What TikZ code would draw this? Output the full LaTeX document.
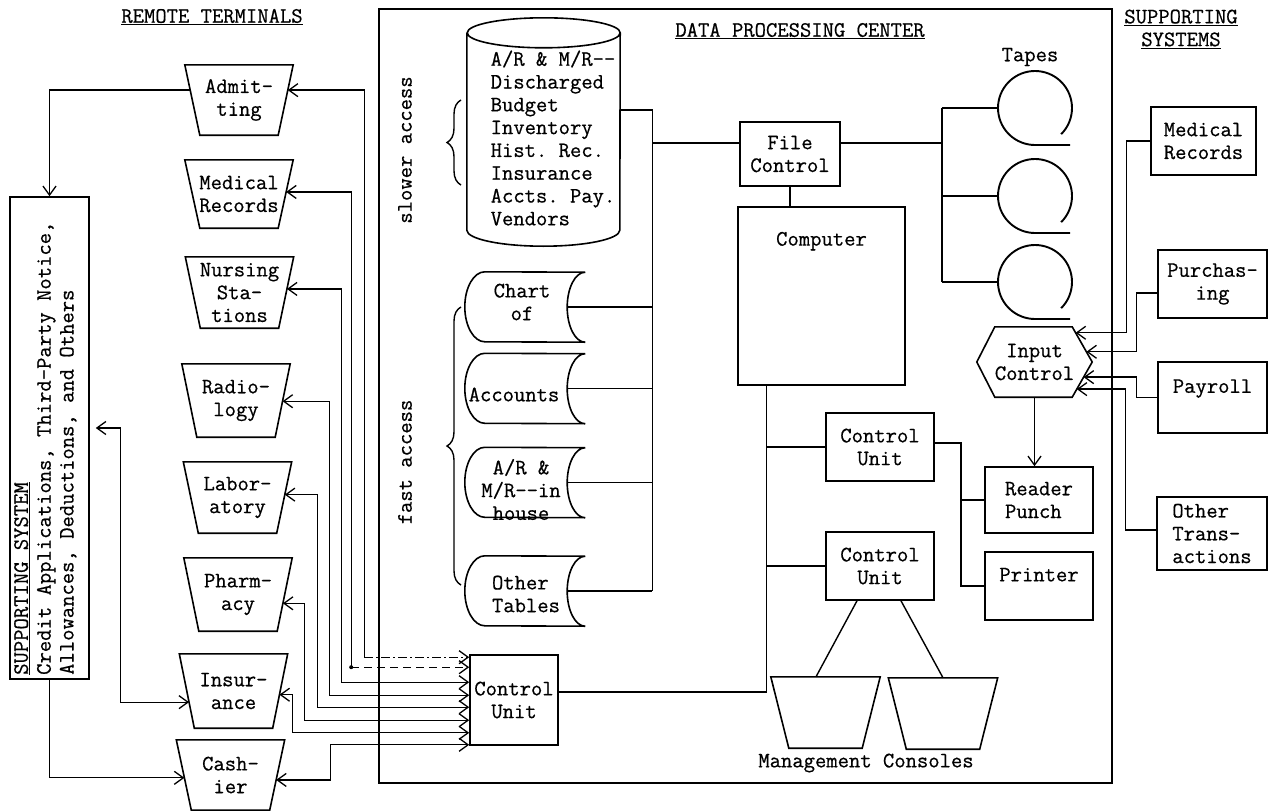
\documentclass[tikz,border=0pt]{standalone}
\usepackage{fontspec}
\setmonofont{Latin Modern Mono}[FakeBold=0.6]
\usetikzlibrary{arrows.meta,calc,decorations.pathreplacing}
\newcommand\mono{\ttfamily\fontsize{22}{22.8}\selectfont}
\newcommand\dd{-\kern0pt-}
\tikzset{
  ln/.style={line width=1.4pt},
  shp/.style={line width=1.6pt},
  wire/.style={line width=1.3pt},
  txt/.style={font=\mono, inner sep=0pt, align=center},
  box/.style={draw, shp, font=\mono, inner sep=0pt, align=center},
  hole/.style={inner sep=0pt, font=\mono, align=center},
  termtext/.style={hole, minimum width=108pt},
  >={Straight Barb[length=9pt,width=13pt]},
}
% terminal: name, x, y, text, height
\newcommand\terminal[5]{%
  \node[termtext, minimum height=#5pt] (#1) at (#2,#3) {#4};
  \coordinate (#1-tl) at (#1.north west);
  \coordinate (#1-tr) at (#1.north east);
  \coordinate (#1-bl) at ([xshift=15pt]#1.south west);
  \coordinate (#1-br) at ([xshift=-15pt]#1.south east);
  \draw[shp] (#1-tl) -- (#1-tr) -- (#1-br) -- (#1-bl) -- cycle;
}
% stored data shape: name, x, y
\newcommand\stored[3]{%
  \node[hole, minimum width=120pt, minimum height=70pt] (#1) at (#2,#3) {};
  \draw[shp] ([xshift=20pt]#1.north west)
    arc[start angle=90, end angle=270, x radius=20pt, y radius=35pt]
    -- (#1.south east)
    arc[start angle=270, end angle=90, x radius=18pt, y radius=35pt]
    -- cycle;
}
\begin{document}
\begin{tikzpicture}[x=1pt,y=-1pt]
\fill[white] (0,0) rectangle (1270,811);
\useasboundingbox (0,0) rectangle (1270,811);

% headers
\node[txt] (hrt) at (212,17) {\underline{REMOTE TERMINALS}};
\node[txt] (hdpc) at (800,31) {\underline{DATA PROCESSING CENTER}};
\node[txt] (hss) at (1181,29) {\underline{SUPPORTING}\\\underline{SYSTEMS}};

% data processing center frame
\node[draw, shp, minimum width=733pt, minimum height=774pt, inner sep=0pt] (dpc) at (745.5,396) {};

% remote terminals
\terminal{adm}{239}{100}{Admit-\\ting}{70}
\terminal{mrec}{239}{194}{Medical\\Records}{68}
\terminal{nurs}{239.5}{292.5}{Nursing\\Sta-\\tions}{71}
\terminal{rad}{236}{400.5}{Radio-\\logy}{73}
\terminal{lab}{237.5}{497.5}{Labor-\\atory}{71}
\terminal{pha}{238}{594.5}{Pharm-\\acy}{73}
\terminal{ins}{233.5}{691}{Insur-\\ance}{74}
\terminal{cash}{230.5}{775}{Cash-\\ier}{70}

\coordinate (adm-in) at ($(adm-tr)!0.36!(adm-br)$);
\coordinate (mrec-in) at ($(mrec-tr)!0.47!(mrec-br)$);
\coordinate (nurs-in) at ($(nurs-tr)!0.45!(nurs-br)$);
\coordinate (rad-in) at ($(rad-tr)!0.51!(rad-br)$);
\coordinate (lab-in) at ($(lab-tr)!0.46!(lab-br)$);
\coordinate (pha-in) at ($(pha-tr)!0.62!(pha-br)$);
\coordinate (ins-in) at ($(ins-tr)!0.55!(ins-br)$);
\coordinate (cash-in) at ($(cash-tr)!0.57!(cash-br)$);
\coordinate (adm-out) at ($(adm-tl)!0.36!(adm-bl)$);
\coordinate (ins-lin) at ($(ins-tl)!0.65!(ins-bl)$);
\coordinate (cash-lin) at ($(cash-tl)!0.54!(cash-bl)$);

% terminal control unit
\node[box, minimum width=88pt, minimum height=90pt] (cul) at (514,700) {Control\\Unit};

\coordinate (wa) at ([xshift=-105pt,yshift=-3pt]cul.north west);
\draw[wire,<-] (adm-in) -| (wa);
\draw[wire,->,dash pattern=on 9pt off 3pt on 2pt off 3pt] (wa) -- (wa -| cul.west);
\coordinate (wb) at ([xshift=-118pt,yshift=-13pt]cul.north west);
\draw[wire,<-] (mrec-in) -| (wb);
\draw[wire,->,dash pattern=on 8pt off 5pt] (wb) -- (wb -| cul.west);
\fill (wb) circle (2pt);
\draw[wire,<->] (nurs-in) -| ([xshift=-128pt,yshift=-28pt]cul.north west) -- ([yshift=-28pt]cul.north west);
\draw[wire,<->] (rad-in) -| ([xshift=-140pt,yshift=-41pt]cul.north west) -- ([yshift=-41pt]cul.north west);
\draw[wire,<->] (lab-in) -| ([xshift=-152pt,yshift=-53pt]cul.north west) -- ([yshift=-53pt]cul.north west);
\draw[wire,<->] (pha-in) -| ([xshift=-165pt,yshift=-66pt]cul.north west) -- ([yshift=-66pt]cul.north west);
\draw[wire,<->] (ins-in) -| ([xshift=-177pt,yshift=13pt]cul.south west) -- ([yshift=13pt]cul.south west);
\draw[wire,<->] (cash-in) -| ([xshift=-139pt,yshift=1pt]cul.south west) -- ([yshift=1pt]cul.south west);

% left supporting system
\node[draw, shp, minimum width=79pt, minimum height=482pt, inner sep=0pt] (ssys) at (49.5,438) {};
\node[txt, rotate=90, anchor=north west, align=left] (ssyst) at (14,675)
  {\underline{SUPPORTING SYSTEM}\\Credit Applications, Third-Party Notice,\\Allowances, Deductions, and Others};
\draw[wire,->] (adm-out) -| (ssys.north);
\draw[wire,<->] ([xshift=6pt,yshift=10pt]ssys.east) -- ++(25,0) |- (ins-lin);
\draw[wire,->] (ssys.south) |- (cash-lin);

% access labels and braces
\node[txt, rotate=90] (slow) at (405,150) {slower access};
\node[txt, rotate=90] (fast) at (405,462) {fast access};
\draw[ln, decorate, decoration={brace, amplitude=14pt}] (461,185) -- (461,100);
\draw[ln, decorate, decoration={brace, amplitude=14pt}] (461,585) -- (461,307);

% drum
\node[hole, minimum width=153pt, minimum height=197pt] (drum) at (543.5,131.5) {};
\draw[shp] (drum.north west) -- (drum.south west)
  arc[start angle=180, end angle=360, x radius=76.5pt, y radius=16pt]
  -- (drum.north east)
  arc[start angle=0, end angle=360, x radius=76.5pt, y radius=15pt];
\node[txt, align=left] (drumt) at (553,138)
  {A/R \& M/R\dd\\Discharged\\Budget\\Inventory\\Hist. Rec.\\Insurance\\Accts. Pay.\\Vendors};

% fast access tables
\stored{chart}{525}{307}
\stored{acct}{525}{388.5}
\stored{arin}{525}{482.5}
\stored{oth}{525}{591}
\node[txt] (chartt) at ([shift={(-3,-5)}]chart.center) {Chart\\of};
\node[txt] (acctt) at ([shift={(-11,6)}]acct.center) {Accounts};
\node[txt] (arint) at ([shift={(-4,7)}]arin.center) {A/R \&\\M/R\dd in\\house};
\node[txt, align=left] (otht) at ([shift={(1,3)}]oth.center) {Other\\Tables};

% storage bus
\coordinate (busT) at ([xshift=32pt,yshift=21.5pt]drum.east);
\draw[ln] ([yshift=21.5pt]drum.east) -- (busT) -- (busT |- oth.east);
\foreach \n in {chart,acct,arin,oth} \draw[ln] ([xshift=-18pt]\n.east) -- (\n.east -| busT);

% file control and computer
\node[box, minimum width=100pt, minimum height=64pt] (fc) at (790,154) {File\\Control};
\coordinate (fcin) at ([yshift=11pt]fc.west);
\draw[ln] (fcin -| busT) -- (fcin);
\node[draw, shp, minimum width=167pt, minimum height=178pt, inner sep=0pt] (comp) at (821.5,296) {};
\node[txt] (compt) at ([yshift=-35pt]comp.north) {Computer};
\draw[ln] (fc.south) -- (fc.south |- comp.north);

% tapes
\node[txt] (tapes) at (1030,57) {Tapes};
\node[circle, minimum size=74pt, inner sep=0pt] (tape1) at (1035,108) {};
\node[circle, minimum size=74pt, inner sep=0pt] (tape2) at (1035,196) {};
\node[circle, minimum size=74pt, inner sep=0pt] (tape3) at (1035,282) {};
\foreach \t in {tape1,tape2,tape3}
  \draw[line width=1.9pt] ([shift={(-45:37pt)}]\t.center)
    arc[start angle=-45, end angle=270, radius=37pt] -- ++(35,0);
\coordinate (fcout) at ([yshift=11pt]fc.east);
\coordinate (tbus) at ([xshift=101pt]fcout);
\draw[ln] (fcout) -- (tbus);
\draw[ln] (tbus |- tape1.west) -- (tbus |- tape3.west);
\foreach \t in {tape1,tape2,tape3} \draw[ln] (tbus |- \t.west) -- (\t.west);

% input control
\node[hole, minimum width=115pt, minimum height=70pt] (inc) at (1034.5,362) {Input\\Control};
\coordinate (inc-nw) at ([xshift=18pt]inc.north west);
\coordinate (inc-ne) at ([xshift=-20pt]inc.north east);
\coordinate (inc-se) at ([xshift=-20pt]inc.south east);
\coordinate (inc-sw) at ([xshift=18pt]inc.south west);
\draw[shp] (inc.west) -- (inc-nw) -- (inc-ne) -- (inc.east) -- (inc-se) -- (inc-sw) -- cycle;

% right supporting systems
\node[box, minimum width=105pt, minimum height=68pt, align=left] (smr) at (1203.5,141) {Medical\\Records};
\node[box, minimum width=109pt, minimum height=68pt] (spur) at (1212.5,284) {Purchas-\\ing};
\node[box, minimum width=109pt, minimum height=71pt, align=left] (spay) at (1212.5,397.5) {Payroll\\\mbox{}};
\node[box, minimum width=110pt, minimum height=73pt, align=left] (soth) at (1212,533.5) {Other\\Trans-\\actions};
\draw[wire,->] (smr.west) -- ++(-24,0) |- ($(inc-ne)!0.17!(inc.east)$);
\draw[wire,->] ([yshift=-9pt]spur.west) -- ++(-21,0) |- ($(inc-ne)!0.71!(inc.east)$);
\draw[wire,->] (spay.west) -- ++(-21,0) |- ($(inc.east)!0.43!(inc-se)$);
\draw[wire,->] ([yshift=3.5pt]soth.west) -- ++(-31,0) |- ($(inc.east)!0.77!(inc-se)$);

% reader punch, printer
\node[box, minimum width=108pt, minimum height=66pt, align=left] (rp) at (1039,500) {Reader\\Punch};
\node[box, minimum width=108pt, minimum height=68pt, align=left] (prn) at (1039,586) {Printer\\\mbox{}};
\draw[wire,->] (inc.south) -- (inc.south |- rp.north);

% control units
\node[box, minimum width=108pt, minimum height=68pt] (cu1) at (880,447) {Control\\Unit};
\node[box, minimum width=108pt, minimum height=68pt] (cu2) at (880,566) {Control\\Unit};
\coordinate (bus2) at ([xshift=29pt]comp.south west);
\draw[ln] (bus2) |- ([yshift=8pt]cul.east);
\draw[ln] (cu1.west) -- (cu1.west -| bus2);
\draw[ln] (cu2.west) -- (cu2.west -| bus2);
\coordinate (cuj) at ([xshift=26pt,yshift=4pt]cu1.east);
\draw[ln] ([yshift=4pt]cu1.east) -- (cuj) |- (prn.west);
\draw[ln] (rp.west) -- (rp.west -| cuj);

% management consoles
\node[hole, minimum width=109pt, minimum height=71pt] (con1) at (825.5,712.5) {};
\node[hole, minimum width=109pt, minimum height=71pt] (con2) at (943,713.5) {};
\foreach \c in {con1,con2}
  \draw[shp] (\c.north west) -- (\c.north east) -- ([xshift=-18pt]\c.south east) -- ([xshift=18pt]\c.south west) -- cycle;
\draw[ln] ([xshift=-23pt]cu2.south) -- ([xshift=-9.5pt]con1.north);
\draw[ln] ([xshift=21pt]cu2.south) -- (con2.north);
\node[txt] (mgmt) at (866,763) {Management Consoles};
\end{tikzpicture}
\end{document}
